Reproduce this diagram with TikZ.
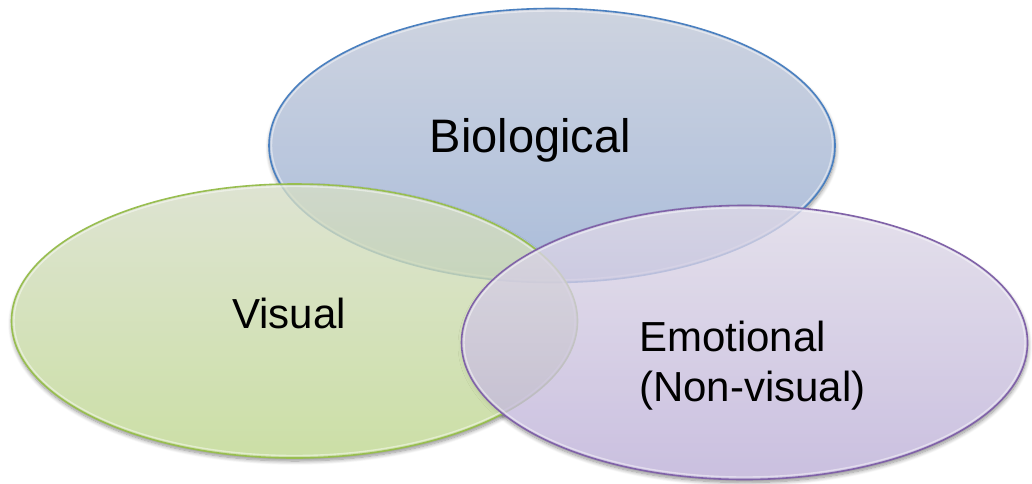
\documentclass[tikz,border=0pt]{standalone}
\usepackage{fontspec}
\setmainfont{Liberation Sans}
\usetikzlibrary{shapes.geometric,shadows.blur}
\definecolor{bioT}{RGB}{194,201,216}
\definecolor{bioB}{RGB}{149,172,210}
\definecolor{bioL}{RGB}{74,128,192}
\definecolor{visT}{RGB}{214,221,199}
\definecolor{visB}{RGB}{191,216,144}
\definecolor{visL}{RGB}{152,190,80}
\definecolor{emoT}{RGB}{222,217,231}
\definecolor{emoB}{RGB}{189,176,216}
\definecolor{emoL}{RGB}{128,98,168}
\tikzset{
  vennbase/.style={ellipse, inner sep=0pt, outer sep=0pt, fill=white,
    minimum width=566pt, minimum height=274pt,
    blur shadow={shadow xshift=0.5pt, shadow yshift=-3pt, shadow blur radius=4pt, shadow blur steps=8, shadow opacity=45}},
  vennfill/.style={ellipse, inner sep=0pt, outer sep=0pt,
    minimum width=566pt, minimum height=274pt, shade, fill opacity=0.8, line width=1.6pt},
  vennrim/.style={ellipse, inner sep=0pt, outer sep=0pt,
    minimum width=561pt, minimum height=269pt, draw=white, draw opacity=0.45, line width=1.4pt},
  vlabel/.style={inner sep=0pt, text=black},
}
\begin{document}
\begin{tikzpicture}[x=1pt,y=-1pt]
\useasboundingbox (0,0) rectangle (1032,483);
% white bases with shadows
\node[vennbase] (bio) at (552,145.5) {};
\node[vennbase] (vis) at (294.5,321) {};
\node[vennbase] (emo) at (744.5,342.5) {};
% coloured, translucent fills
\node[vennfill, top color=bioT, bottom color=bioB, draw=bioL] (biofill) at (bio.center) {};
\node[vennrim] (biorim) at (bio.center) {};
\node[vennfill, top color=visT, bottom color=visB, draw=visL] (visfill) at (vis.center) {};
\node[vennrim] (visrim) at (vis.center) {};
\node[vennfill, top color=emoT, bottom color=emoB, draw=emoL] (emofill) at (emo.center) {};
\node[vennrim] (emorim) at (emo.center) {};
% labels
\node[vlabel, anchor=base, font=\fontsize{47}{56}\selectfont] (biotext) at (530.5,152) {Biological};
\node[vlabel, anchor=base, font=\fontsize{42}{50}\selectfont] (vistext) at (289,328) {Visual};
\node[vlabel, anchor=base west, align=left, font=\fontsize{42}{50}\selectfont] (emotext) at (639,401) {Emotional\\(Non-visual)};
\end{tikzpicture}
\end{document}
